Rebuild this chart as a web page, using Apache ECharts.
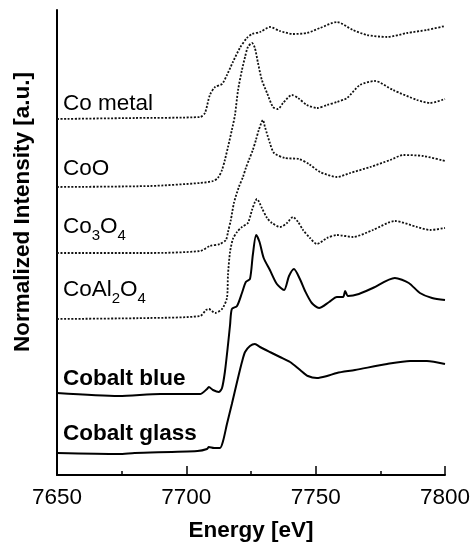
<!DOCTYPE html>
<html>
<head>
<meta charset="utf-8">
<script src="https://cdn.jsdelivr.net/npm/echarts@6/dist/echarts.min.js"></script>
<style>
  html, body { margin: 0; padding: 0; background: #fff; }
  #main { width: 470px; height: 544px; }
</style>
</head>
<body>
<div id="main"></div>
<script>
// energy axis [eV] and stacked normalized intensities (offset per sample)
var coMetalE = [7650, 7680, 7705.3, 7707.2, 7709.1, 7711.1, 7713.8, 7715.7, 7718, 7720.7, 7723.4, 7725.4, 7728.5, 7732.3, 7736.2, 7741.2, 7746.6, 7751.7, 7758.2, 7764.4, 7769.8, 7777.6, 7785.3, 7793, 7800]
var coMetalI = [7.12, 7.14, 7.16, 7.24, 7.60, 7.76, 7.82, 8.00, 8.26, 8.54, 8.74, 8.82, 8.86, 8.96, 8.88, 8.82, 8.84, 8.94, 9.06, 8.90, 8.80, 8.76, 8.84, 8.90, 8.98]

var coOE = [7650, 7686, 7705.3, 7710.3, 7712.2, 7713.8, 7714.9, 7716.1, 7717.6, 7718.8, 7720, 7721.5, 7722.7, 7723.8, 7725.4, 7726.5, 7727.7, 7729.2, 7731.2, 7733.5, 7735.4, 7737.4, 7740.8, 7743.2, 7746.6, 7750.5, 7754.4, 7758.2, 7762.1, 7767.1, 7772.9, 7779.9, 7789.2, 7794.2, 7800]
var coOI = [5.76, 5.78, 5.84, 5.88, 5.94, 6.10, 6.30, 6.56, 6.90, 7.20, 7.70, 8.10, 8.36, 8.56, 8.64, 8.54, 8.24, 7.90, 7.64, 7.36, 7.32, 7.44, 7.60, 7.54, 7.40, 7.34, 7.40, 7.46, 7.54, 7.80, 7.88, 7.70, 7.50, 7.44, 7.52]

var co3o4E = [7650, 7686, 7705.3, 7709.1, 7713, 7715.3, 7716.1, 7717.2, 7718.4, 7720.3, 7721.9, 7723, 7724.2, 7725.7, 7726.9, 7728, 7729.6, 7730.4, 7732.3, 7733.9, 7738.1, 7743.5, 7747.4, 7751.7, 7758.2, 7763.3, 7771.1, 7778.8, 7783.9, 7791.6, 7800]
var co3o4I = [4.44, 4.44, 4.48, 4.58, 4.62, 4.70, 4.86, 5.10, 5.44, 5.76, 5.96, 6.14, 6.30, 6.50, 6.70, 6.90, 7.10, 6.96, 6.64, 6.44, 6.34, 6.32, 6.22, 6.06, 5.96, 6.04, 6.16, 6.30, 6.40, 6.38, 6.28]

var coAl2o4E = [7650, 7686, 7705.3, 7707.6, 7708.7, 7711.1, 7713.8, 7715.7, 7716.1, 7716.9, 7718, 7719.6, 7721.5, 7723.8, 7725.4, 7726.5, 7727.3, 7729.2, 7731.2, 7733.1, 7736.2, 7738.9, 7741.2, 7743.2, 7745.1, 7747.8, 7750.5, 7754.4, 7758.2, 7764.4, 7772.1, 7780.6, 7789.2, 7794.2, 7800]
var coAl2o4I = [3.12, 3.14, 3.18, 3.30, 3.32, 3.24, 3.32, 3.54, 4.00, 4.46, 4.72, 4.86, 4.96, 5.04, 5.30, 5.46, 5.52, 5.34, 5.14, 5.04, 4.96, 5.04, 5.16, 5.06, 4.90, 4.74, 4.62, 4.74, 4.80, 4.76, 4.90, 5.08, 4.96, 4.90, 4.94]

var blueE = [7650, 7673.9, 7690, 7705.3, 7708, 7708.7, 7710.3, 7712.6, 7713.8, 7714.9, 7716.1, 7716.9, 7717.6, 7719.6, 7721.5, 7723, 7724.6, 7725.7, 7727, 7728.3, 7729.9, 7732.3, 7735, 7737.8, 7739.7, 7741.6, 7743.9, 7745.9, 7748.5, 7751.3, 7755.2, 7758.2, 7760.6, 7761.4, 7762.5, 7766.7, 7772.1, 7780.6, 7786, 7790.3, 7795, 7800]
var blueI = [1.64, 1.58, 1.62, 1.62, 1.72, 1.76, 1.70, 1.66, 1.74, 2.06, 2.60, 3.00, 3.32, 3.38, 3.64, 3.86, 3.92, 4.40, 4.80, 4.66, 4.34, 4.10, 3.82, 3.70, 3.98, 4.12, 3.92, 3.68, 3.44, 3.34, 3.46, 3.56, 3.56, 3.68, 3.58, 3.62, 3.74, 3.94, 3.84, 3.64, 3.54, 3.50]

var glassE = [7650, 7673.9, 7680, 7704.3, 7708, 7708.7, 7710.7, 7713, 7714.2, 7715.7, 7717.6, 7719.6, 7721.5, 7722.7, 7724.6, 7726.5, 7728.5, 7732.3, 7736.2, 7740.1, 7744, 7747, 7750.5, 7754.4, 7758.2, 7765.2, 7777.6, 7786.5, 7793, 7800]
var glassI = [0.44, 0.42, 0.44, 0.48, 0.52, 0.56, 0.54, 0.54, 0.68, 1.02, 1.42, 1.86, 2.26, 2.46, 2.58, 2.62, 2.56, 2.46, 2.36, 2.26, 2.10, 1.98, 1.94, 1.98, 2.04, 2.10, 2.22, 2.28, 2.28, 2.22]

var energyTicks = [7650, 7700, 7750, 7800]
var minorStep = 25

var font = 'Liberation Sans, Arial, Helvetica, sans-serif'

function pairs (e, v) {
  return e.map(function (x, i) { return [x, v[i]] })
}

function curve (name, e, v, dotted) {
  return {
    name: name,
    type: 'line',
    data: pairs(e, v),
    showSymbol: false,
    smooth: 0.25,
    silent: true,
    lineStyle: dotted
      ? { color: '#111', width: 1.8, type: [2, 1.6], cap: 'butt' }
      : { color: '#000', width: 2 }
  }
}

var chart = echarts.init(document.getElementById('main'))

var labelRich = {
  m: { fontSize: 22.5, fontFamily: font, color: '#000', lineHeight: 32 },
  s: { fontSize: 15, fontFamily: font, color: '#000', verticalAlign: 'bottom' }
}

function label (text, y, bold) {
  return {
    type: 'text',
    x: 63,
    y: y,
    silent: true,
    style: {
      text: text,
      fill: '#000',
      font: (bold ? 'bold ' : '') + '22.5px ' + font,
      textAlign: 'left',
      textVerticalAlign: 'middle',
      rich: labelRich
    }
  }
}

var xMin = energyTicks[0]
var xMax = energyTicks[energyTicks.length - 1]

var option = {
  animation: false,
  backgroundColor: '#fff',
  grid: { left: 57, right: 25, top: 10, bottom: 69, outerBoundsMode: 'none', containLabel: false },
  xAxis: [
    {
      type: 'value',
      min: xMin,
      max: xMax,
      interval: energyTicks[1] - energyTicks[0],
      name: 'Energy [eV]',
      nameLocation: 'middle',
      nameGap: 44,
      nameTextStyle: { fontSize: 22.5, fontWeight: 'bold', fontFamily: font, color: '#000' },
      axisLine: { show: true, onZero: false, lineStyle: { color: '#000', width: 2 } },
      axisTick: { show: true, inside: true, length: 9, lineStyle: { color: '#000', width: 1.5 } },
      axisLabel: {
        fontSize: 22.5, fontFamily: font, color: '#000', margin: 11,
        formatter: function (v) { return String(v) }
      },
      splitLine: { show: false }
    },
    {
      // minor ticks every 25 eV
      type: 'value',
      position: 'bottom',
      min: xMin,
      max: xMax,
      interval: minorStep,
      axisLine: { show: false, onZero: false },
      axisTick: { show: true, inside: true, length: 4, lineStyle: { color: '#000', width: 1.5 } },
      axisLabel: { show: false },
      splitLine: { show: false }
    }
  ],
  yAxis: {
    type: 'value',
    min: 0,
    max: 9.3,
    axisLine: { show: true, onZero: false, lineStyle: { color: '#000', width: 2 } },
    axisTick: { show: false },
    axisLabel: { show: false },
    splitLine: { show: false }
  },
  graphic: [
    {
      type: 'text',
      x: 23,
      y: 212,
      rotation: Math.PI / 2,
      silent: true,
      style: {
        text: 'Normalized Intensity [a.u.]',
        fill: '#000',
        font: 'bold 22.5px ' + font,
        textAlign: 'center',
        textVerticalAlign: 'middle'
      }
    },
    label('{m|Co metal}', 103.5),
    label('{m|CoO}', 169),
    label('{m|Co}{s|3}{m|O}{s|4}', 227),
    label('{m|CoAl}{s|2}{m|O}{s|4}', 290),
    label('Cobalt blue', 378.5, true),
    label('Cobalt glass', 433.5, true)
  ],
  series: [
    curve('Co metal', coMetalE, coMetalI, true),
    curve('CoO', coOE, coOI, true),
    curve('Co3O4', co3o4E, co3o4I, true),
    curve('CoAl2O4', coAl2o4E, coAl2o4I, true),
    curve('Cobalt blue', blueE, blueI, false),
    curve('Cobalt glass', glassE, glassI, false)
  ]
}

chart.setOption(option)
</script>
</body>
</html>
